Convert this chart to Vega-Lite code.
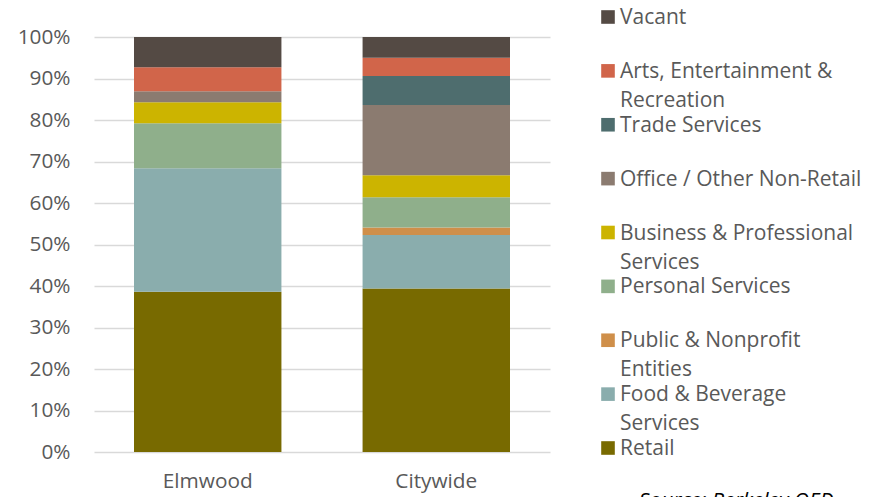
{
  "$schema": "https://vega.github.io/schema/vega-lite/v6.json",
  "padding": {"left": 17, "top": 7, "right": 5, "bottom": 5},
  "background": "white",
  "config": {
    "view": {"stroke": null},
    "font": "Open Sans",
    "axis": {"labelFont": "Open Sans", "labelFontSize": 20.8, "labelColor": "#595959", "ticks": false, "domain": false, "title": null},
    "title": {"font": "Open Sans"}
  },
  "datasets": {
    "shares": [
      {"area": "Elmwood", "category": "Retail", "series": 1, "pct": 38.6},
      {"area": "Elmwood", "category": "Food & Beverage Services", "series": 2, "pct": 29.8},
      {"area": "Elmwood", "category": "Personal Services", "series": 4, "pct": 10.8},
      {"area": "Elmwood", "category": "Business & Professional Services", "series": 5, "pct": 5.1},
      {"area": "Elmwood", "category": "Office / Other Non-Retail", "series": 6, "pct": 2.6},
      {"area": "Elmwood", "category": "Arts, Entertainment & Recreation", "series": 8, "pct": 5.8},
      {"area": "Elmwood", "category": "Vacant", "series": 9, "pct": 7.3},
      {"area": "Citywide", "category": "Retail", "series": 1, "pct": 39.4},
      {"area": "Citywide", "category": "Food & Beverage Services", "series": 2, "pct": 12.9},
      {"area": "Citywide", "category": "Public & Nonprofit Entities", "series": 3, "pct": 1.8},
      {"area": "Citywide", "category": "Personal Services", "series": 4, "pct": 7.3},
      {"area": "Citywide", "category": "Business & Professional Services", "series": 5, "pct": 5.3},
      {"area": "Citywide", "category": "Office / Other Non-Retail", "series": 6, "pct": 16.9},
      {"area": "Citywide", "category": "Trade Services", "series": 7, "pct": 7.0},
      {"area": "Citywide", "category": "Arts, Entertainment & Recreation", "series": 8, "pct": 4.4},
      {"area": "Citywide", "category": "Vacant", "series": 9, "pct": 5.0}
    ],
    "legend": [
      {"category": "Vacant", "label": "Vacant"},
      {"category": "Arts, Entertainment & Recreation", "label": "Arts, Entertainment &|Recreation"},
      {"category": "Trade Services", "label": "Trade Services"},
      {"category": "Office / Other Non-Retail", "label": "Office / Other Non-Retail"},
      {"category": "Business & Professional Services", "label": "Business & Professional|Services"},
      {"category": "Personal Services", "label": "Personal Services"},
      {"category": "Public & Nonprofit Entities", "label": "Public & Nonprofit|Entities"},
      {"category": "Food & Beverage Services", "label": "Food & Beverage|Services"},
      {"category": "Retail", "label": "Retail"}
    ]
  },
  "hconcat": [
    {
      "width": 456,
      "height": 435,
      "data": {"name": "shares"},
      "mark": {"type": "bar"},
      "encoding": {
        "x": {
          "field": "area", "type": "nominal", "sort": ["Elmwood", "Citywide"],
          "scale": {"paddingInner": 0.355, "paddingOuter": 0.175},
          "axis": {"labelAngle": 0, "labelPadding": 19, "grid": false}
        },
        "y": {
          "field": "pct", "type": "quantitative", "stack": "zero",
          "scale": {"domain": [0, 104.82], "nice": false, "zero": true},
          "axis": {
            "values": [0, 10, 20, 30, 40, 50, 60, 70, 80, 90, 100],
            "labelExpr": "datum.value + '%'",
            "labelPadding": 24,
            "grid": true, "gridColor": "#d9d9d9", "gridWidth": 1.5
          }
        },
        "order": {"field": "series", "type": "quantitative", "sort": "ascending"},
        "color": {
          "field": "category", "type": "nominal",
          "scale": {
            "domain": ["Retail", "Food & Beverage Services", "Public & Nonprofit Entities", "Personal Services", "Business & Professional Services", "Office / Other Non-Retail", "Trade Services", "Arts, Entertainment & Recreation", "Vacant"],
            "range": ["#786a00", "#8aadad", "#cf8f4a", "#8faf8b", "#ccb400", "#8b7b70", "#4e6d6e", "#d1654a", "#544a44"]
          },
          "legend": null
        }
      }
    },
    {
      "width": 20,
      "height": 431,
      "data": {"name": "legend"},
      "title": {
        "text": "Source: Berkeley OED",
        "orient": "bottom",
        "anchor": "start",
        "fontSize": 20.8,
        "fontStyle": "italic",
        "fontWeight": "normal",
        "color": "#000000",
        "offset": 32,
        "dx": 41
      },
      "layer": [
        {
          "mark": {"type": "square", "size": 185, "opacity": 1, "filled": true},
          "encoding": {
            "y": {"field": "category", "type": "nominal", "sort": null, "scale": {"padding": 0}, "axis": null},
            "color": {"field": "category", "type": "nominal", "legend": null}
          }
        },
        {
          "mark": {"type": "text", "align": "left", "baseline": "top", "dx": 12, "dy": -10, "fontSize": 21, "color": "#595959", "lineBreak": "|", "lineHeight": 29},
          "encoding": {
            "y": {"field": "category", "type": "nominal", "sort": null, "axis": null},
            "text": {"field": "label"}
          }
        }
      ]
    }
  ],
  "spacing": 48,
  "bounds": "flush"
}
